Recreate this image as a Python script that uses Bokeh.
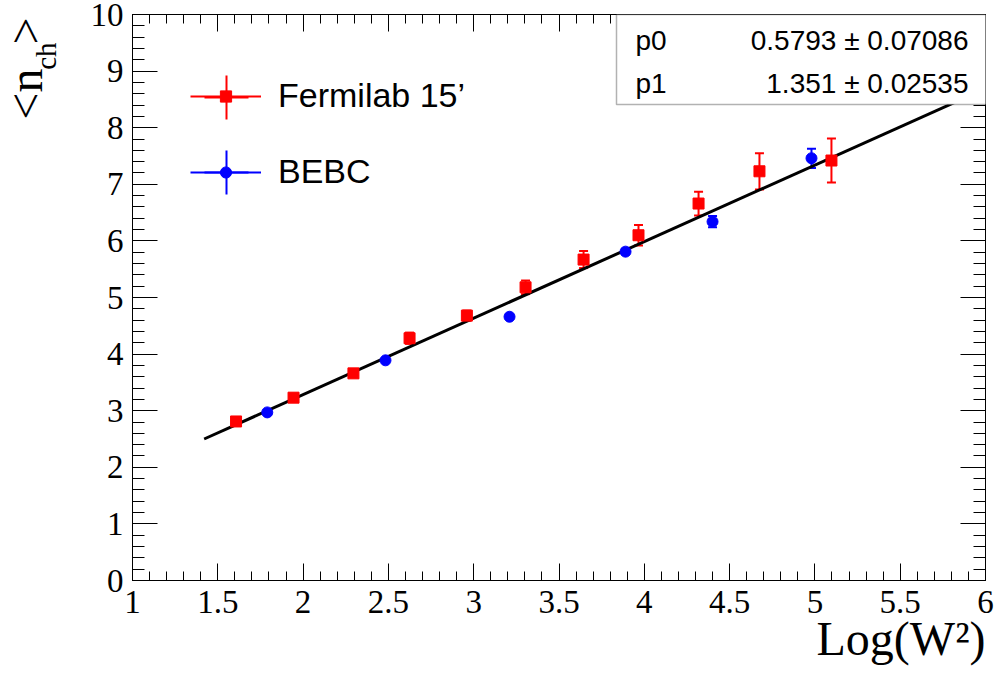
import numpy as np
from bokeh.plotting import figure
from bokeh.models import (Range1d, FixedTicker, LinearAxis, Whisker, ColumnDataSource,
                          Legend, LegendItem, Label, BoxAnnotation, TeeHead, Title)
from bokeh.embed import file_html
from bokeh.resources import INLINE

# ---- data ----
FERMI_LABEL = "Fermilab 15\u2019"
FERMI_X = [1.607, 1.944, 2.295, 2.624, 2.96, 3.304, 3.644, 3.966, 4.318, 4.675, 5.097]
FERMI_Y = [2.81, 3.23, 3.66, 4.28, 4.68, 5.18, 5.67, 6.10, 6.66, 7.23, 7.42]
FERMI_ERR = [0.05, 0.07, 0.05, 0.10, 0.09, 0.12, 0.15, 0.18, 0.21, 0.32, 0.39]

BEBC_LABEL = "BEBC"
BEBC_X = [1.79, 2.483, 3.21, 3.89, 4.40, 4.98]
BEBC_Y = [2.97, 3.89, 4.66, 5.81, 6.34, 7.46]
BEBC_ERR = [0.03, 0.03, 0.03, 0.05, 0.10, 0.17]

FIT_X = [1.42, 6.0]
FIT_Y = [2.50, 8.69]

STAT_NAMES = ["p0", "p1"]
STAT_VALUES = ["0.5793 \u00b1 0.07086", "1.351 \u00b1 0.02535"]

X_TICKS = [1, 1.5, 2, 2.5, 3, 3.5, 4, 4.5, 5, 5.5, 6]
X_TICK_LABELS = ["1", "1.5", "2", "2.5", "3", "3.5", "4", "4.5", "5", "5.5", "6"]
Y_TICKS = [0, 1, 2, 3, 4, 5, 6, 7, 8, 9, 10]
Y_TICK_LABELS = ["0", "1", "2", "3", "4", "5", "6", "7", "8", "9", "10"]

X_TITLE = "Log(W\u00b2)"
Y_TITLE_MAIN = "<n\u00a0\u00a0>"
Y_TITLE_SUB = "ch"

X_MINOR = [round(v, 2) for v in np.arange(1.0, 6.001, 0.1)]
Y_MINOR = [round(v, 2) for v in np.arange(0.0, 10.001, 0.2)]

p = figure(width=1000, height=676, x_range=Range1d(1, 6), y_range=Range1d(0, 10),
           output_backend="svg", toolbar_location=None,
           min_border_left=132, min_border_right=15, min_border_top=14, min_border_bottom=96)
p.xgrid.visible = False
p.ygrid.visible = False
p.outline_line_color = "black"
p.outline_line_width = 1
p.background_fill_color = "white"
p.border_fill_color = "white"

xt = FixedTicker(ticks=X_TICKS, minor_ticks=X_MINOR)
yt = FixedTicker(ticks=Y_TICKS, minor_ticks=Y_MINOR)

def style_axis(ax, tick_in, minor_in, labels, standoff):
    ax.axis_line_color = "black"
    ax.major_tick_line_color = "black"
    ax.minor_tick_line_color = "black"
    ax.major_tick_out = 0
    ax.minor_tick_out = 0
    ax.major_tick_in = tick_in
    ax.minor_tick_in = minor_in
    ax.major_label_text_font = "Liberation Serif"
    ax.major_label_text_font_size = "33px"
    ax.major_label_text_color = "black"
    ax.major_label_standoff = standoff
    if labels is None:
        # mirror axis: ticks only, no labels drawn
        ax.major_label_text_font_size = "1px"
        ax.major_label_text_color = None
        ax.major_label_standoff = 0

xa = p.xaxis[0]
xa.ticker = xt
xa.major_label_overrides = {t: l for t, l in zip(X_TICKS, X_TICK_LABELS)}
style_axis(xa, 17, 9, X_TICK_LABELS, 10)

ya = p.yaxis[0]
ya.ticker = yt
ya.major_label_overrides = {t: l for t, l in zip(Y_TICKS, Y_TICK_LABELS)}
style_axis(ya, 25, 12, Y_TICK_LABELS, 9)
# invisible spacer so that the title pieces sit where the reference has them
ya.axis_label = "\u00a0"
ya.axis_label_standoff = 22
ya.axis_label_text_font_size = "1px"

top_ax = LinearAxis(ticker=xt)
style_axis(top_ax, 17, 9, None, 0)
p.add_layout(top_ax, "above")
right_ax = LinearAxis(ticker=yt)
style_axis(right_ax, 25, 12, None, 0)
p.add_layout(right_ax, "right")

# x title, right-aligned below the tick labels
p.add_layout(Title(text=X_TITLE, align="right", offset=0, vertical_align="top",
                   standoff=-8, text_font="Liberation Serif", text_font_size="48px",
                   text_font_style="normal", text_color="black"), "below")

# y title: subscript (inner) and main part (outer)
p.add_layout(Title(text=Y_TITLE_SUB, align="right", offset=28, vertical_align="bottom",
                   standoff=0, text_font="Liberation Serif", text_font_size="29px",
                   text_font_style="normal", text_color="black"), "left")
p.add_layout(Title(text=Y_TITLE_MAIN, align="right", offset=3, vertical_align="bottom",
                   standoff=-48, text_font="Liberation Serif", text_font_size="48px",
                   text_font_style="normal", text_color="black"), "left")

# ---- fit line ----
p.line(FIT_X, FIT_Y, line_color="black", line_width=3)

# ---- error bars ----
src_f = ColumnDataSource(dict(x=FERMI_X, y=FERMI_Y,
                              lo=[y - e for y, e in zip(FERMI_Y, FERMI_ERR)],
                              hi=[y + e for y, e in zip(FERMI_Y, FERMI_ERR)]))
src_b = ColumnDataSource(dict(x=BEBC_X, y=BEBC_Y,
                              lo=[y - e for y, e in zip(BEBC_Y, BEBC_ERR)],
                              hi=[y + e for y, e in zip(BEBC_Y, BEBC_ERR)]))
for src, col in ((src_f, "red"), (src_b, "blue")):
    w = Whisker(base="x", lower="lo", upper="hi", source=src, dimension="height",
                line_color=col, line_width=2,
                upper_head=TeeHead(size=9, line_color=col, line_width=2),
                lower_head=TeeHead(size=9, line_color=col, line_width=2))
    p.add_layout(w)

sq = p.scatter("x", "y", source=src_f, marker="square", size=11, fill_color="red", line_color="red")
ci = p.scatter("x", "y", source=src_b, marker="circle", size=11, fill_color="blue", line_color="blue")

# ---- legend (placeholder renderers hold no visible point) ----
NAN = [float("nan")]
lf = p.line(NAN, NAN, line_color="red", line_width=2)
lb = p.line(NAN, NAN, line_color="blue", line_width=2)
cf = p.scatter(NAN, NAN, marker="cross", line_color="red", line_width=2)
cb = p.scatter(NAN, NAN, marker="cross", line_color="blue", line_width=2)

for rend, ybot in ((cf, 483 - 55), (cb, 408 - 55)):
    lg = Legend(items=[LegendItem(label=" ", renderers=[rend])], location=(39, ybot),
                glyph_width=110, glyph_height=110, label_text_font_size="1px",
                padding=0, margin=0, spacing=0, label_standoff=0,
                border_line_color=None, background_fill_alpha=0)
    p.add_layout(lg)

leg = Legend(items=[LegendItem(label=FERMI_LABEL, renderers=[lf, sq]),
                    LegendItem(label=BEBC_LABEL, renderers=[lb, ci])],
             location=(58, 389), glyph_width=71, glyph_height=28,
             label_text_font="Liberation Sans", label_text_font_size="34px",
             label_text_color="black",
             label_standoff=17, spacing=37, padding=0, margin=0,
             border_line_color=None, background_fill_alpha=0)
p.add_layout(leg)

# ---- stat box ----
p.add_layout(BoxAnnotation(left=484, right=855, bottom=476, top=566,
                           left_units="screen", right_units="screen",
                           bottom_units="screen", top_units="screen",
                           fill_color="white", fill_alpha=1.0,
                           line_color="black", line_width=1.5, level="overlay"))
for name, val, yb in zip(STAT_NAMES, STAT_VALUES, (540, 497)):
    p.add_layout(Label(x=503, y=yb, x_units="screen", y_units="screen", text=name,
                       text_font="Liberation Sans", text_font_size="28px", text_color="black",
                       text_align="left", text_baseline="alphabetic", level="overlay"))
    p.add_layout(Label(x=836, y=yb, x_units="screen", y_units="screen", text=val,
                       text_font="Liberation Sans", text_font_size="28px", text_color="black",
                       text_align="right", text_baseline="alphabetic", level="overlay"))

open("out.html", "w").write(file_html(p, INLINE))
